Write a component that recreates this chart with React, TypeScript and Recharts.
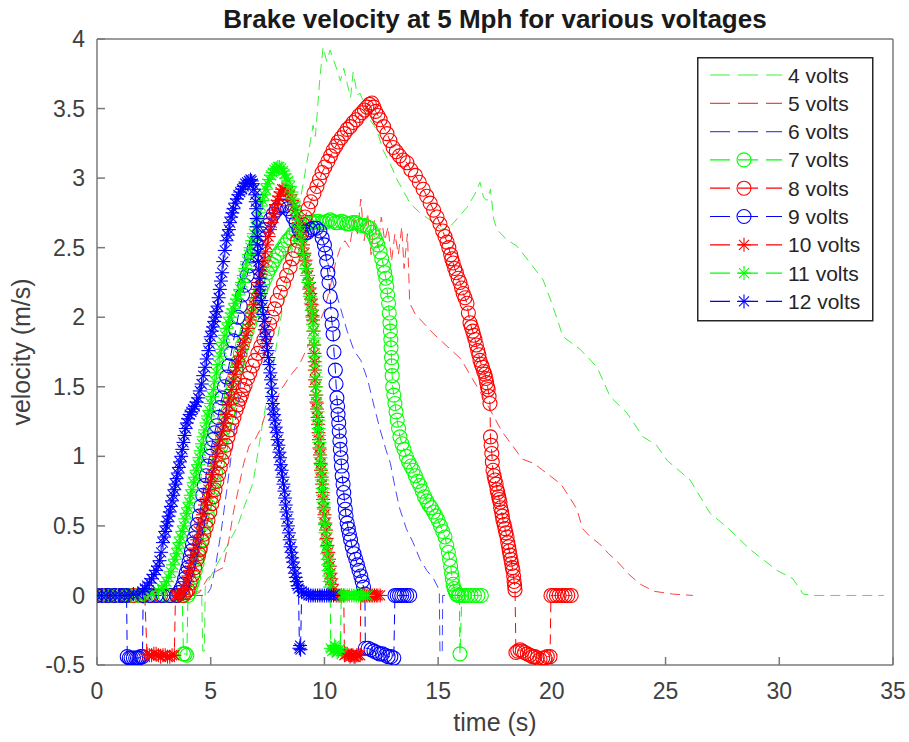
import React from 'react';
import { LineChart, Line, XAxis, YAxis, Legend, Label } from 'recharts';

type P = [number, number];

const xTicks = [0, 5, 10, 15, 20, 25, 30, 35];
const yTicks = [-0.5, 0, 0.5, 1, 1.5, 2, 2.5, 3, 3.5, 4];
const titleText = 'Brake velocity at 5 Mph for various voltages';
const xLabelText = 'time (s)';
const yLabelText = 'velocity (m/s)';

const v4: P[] = [[0,0],[1,0],[2,0],[3,0],[4,0],[4.6,0.04],[4.65,-0.4],[4.72,-0.4],[4.76,0.06],[5.2,0.2],[5.7,0.35],[6.16,0.49],[6.5,0.65],[6.86,0.81],[7.1,1.05],[7.3,1.26],[7.7,1.6],[8.05,1.96],[8.5,2.41],[9.0,2.9],[9.3,3.18],[9.5,3.38],[9.6,3.3],[9.67,3.44],[9.8,3.72],[9.94,3.94],[10.1,3.84],[10.25,3.92],[10.38,3.86],[10.55,3.78],[10.7,3.7],[10.85,3.79],[11.0,3.68],[11.15,3.58],[11.26,3.76],[11.45,3.6],[11.57,3.61],[12.0,3.42],[12.3,3.35],[12.58,3.2],[12.9,3.1],[13.19,2.99],[13.5,2.9],[13.76,2.82],[14.2,2.75],[14.64,2.7],[15.1,2.63],[15.52,2.65],[15.9,2.72],[16.27,2.79],[16.6,2.88],[16.84,2.97],[17.0,2.86],[17.15,2.84],[17.3,2.92],[17.45,2.7],[17.59,2.63],[18.0,2.56],[18.47,2.51],[19.0,2.4],[19.61,2.27],[20.0,2.1],[20.49,1.86],[21.24,1.77],[21.99,1.64],[22.56,1.43],[23.31,1.31],[24.01,1.14],[24.6,1.08],[25.07,0.97],[26.08,0.83],[26.96,0.59],[27.7,0.49],[28.72,0.33],[29.9,0.18],[30.6,0.12],[31.05,0.01],[31.5,0],[32.5,0],[33.5,0],[34.6,0]];

const v5: P[] = [[0,0],[2,0],[4,0],[4.5,0.02],[4.85,0.12],[5.2,0.17],[5.55,0.2],[5.8,0.4],[6.0,0.6],[6.2,0.75],[6.45,0.95],[6.7,1.08],[6.95,1.12],[7.2,1.2],[7.4,1.3],[7.6,1.28],[7.85,1.4],[8.1,1.48],[8.5,1.58],[8.9,1.66],[9.3,1.8],[9.7,1.93],[10.0,2.05],[10.3,2.25],[10.5,2.4],[10.7,2.5],[10.9,2.55],[11.1,2.5],[11.3,2.7],[11.45,2.6],[11.6,2.85],[11.75,2.55],[11.9,2.75],[12.05,2.45],[12.2,2.7],[12.35,2.5],[12.5,2.72],[12.65,2.55],[12.8,2.65],[12.95,2.4],[13.1,2.6],[13.25,2.45],[13.4,2.65],[13.5,2.35],[13.65,2.6],[13.75,2.1],[14.0,2.02],[14.35,1.96],[14.8,1.88],[15.2,1.82],[15.6,1.76],[16.0,1.7],[16.5,1.56],[17.0,1.42],[17.4,1.3],[17.8,1.18],[18.3,1.07],[18.7,0.98],[19.2,0.95],[19.6,0.9],[20.0,0.85],[20.4,0.8],[20.8,0.7],[21.1,0.62],[21.35,0.48],[21.7,0.42],[22.1,0.37],[22.5,0.3],[22.9,0.24],[23.4,0.15],[23.9,0.08],[24.5,0.03],[25.3,0.01],[26.2,0]];

const v6: P[] = [[0,0],[1,0],[2,0],[3,0],[4,0],[4.8,0],[5.0,0.05],[5.2,0.2],[5.45,0.45],[5.7,0.75],[5.9,1.0],[6.1,1.28],[6.3,1.5],[6.5,1.75],[6.8,2.0],[7.2,2.25],[7.7,2.45],[8.3,2.6],[8.9,2.7],[9.4,2.7],[9.8,2.6],[10.1,2.42],[10.4,2.24],[10.7,2.07],[11.0,1.9],[11.3,1.76],[11.6,1.69],[11.9,1.55],[12.2,1.35],[12.45,1.19],[12.7,1.05],[12.9,0.95],[13.1,0.78],[13.3,0.63],[13.6,0.48],[13.9,0.38],[14.2,0.26],[14.5,0.18],[14.8,0.12],[15.05,0.04],[15.08,-0.4],[15.18,-0.42],[15.2,0],[15.6,0],[16.0,0]];

const v7: P[] = [[0,0],[0.3,0],[0.6,0],[0.9,0],[1.2,0],[1.5,0],[1.8,0],[2.1,0],[2.4,0],[2.7,0],[3.0,0],[3.3,0],[3.55,0],[3.75,0],[3.8,-0.42],[3.88,-0.42],[3.95,-0.43],[4.0,0],[4.05,0.02],[4.1,0.05],[4.18,0.09],[4.25,0.13],[4.32,0.18],[4.4,0.23],[4.47,0.28],[4.55,0.34],[4.62,0.4],[4.7,0.46],[4.77,0.52],[4.85,0.58],[4.92,0.64],[5.0,0.7],[5.07,0.76],[5.15,0.82],[5.22,0.88],[5.3,0.95],[5.37,1.01],[5.45,1.07],[5.52,1.13],[5.6,1.2],[5.67,1.26],[5.75,1.32],[5.82,1.38],[5.9,1.45],[5.97,1.51],[6.05,1.57],[6.12,1.62],[6.2,1.68],[6.3,1.74],[6.4,1.8],[6.5,1.85],[6.6,1.9],[6.7,1.95],[6.8,2.0],[6.9,2.05],[7.0,2.1],[7.1,2.15],[7.2,2.2],[7.3,2.24],[7.4,2.28],[7.5,2.32],[7.6,2.35],[7.7,2.38],[7.8,2.41],[7.9,2.44],[8.0,2.46],[8.12,2.49],[8.25,2.52],[8.38,2.55],[8.5,2.57],[8.62,2.6],[8.75,2.62],[8.88,2.64],[9.0,2.65],[9.12,2.66],[9.25,2.67],[9.38,2.68],[9.5,2.68],[9.62,2.69],[9.75,2.69],[9.88,2.68],[10.0,2.68],[10.12,2.69],[10.25,2.7],[10.38,2.69],[10.5,2.68],[10.62,2.68],[10.75,2.69],[10.88,2.68],[11.0,2.67],[11.12,2.67],[11.25,2.68],[11.38,2.68],[11.5,2.67],[11.62,2.66],[11.75,2.66],[11.88,2.65],[12.0,2.64],[12.1,2.61],[12.2,2.58],[12.28,2.55],[12.35,2.52],[12.45,2.47],[12.52,2.42],[12.6,2.37],[12.65,2.32],[12.7,2.28],[12.74,2.22],[12.78,2.16],[12.82,2.1],[12.85,2.03],[12.88,1.96],[12.9,1.9],[12.92,1.84],[12.93,1.78],[12.95,1.71],[12.96,1.65],[12.98,1.58],[13.0,1.5],[13.05,1.44],[13.1,1.38],[13.15,1.32],[13.2,1.26],[13.26,1.2],[13.32,1.14],[13.41,1.09],[13.5,1.05],[13.6,1.0],[13.7,0.96],[13.8,0.93],[13.9,0.9],[14.0,0.86],[14.1,0.82],[14.2,0.79],[14.3,0.75],[14.4,0.71],[14.5,0.68],[14.6,0.65],[14.7,0.63],[14.8,0.6],[14.9,0.57],[15.0,0.54],[15.1,0.5],[15.2,0.46],[15.3,0.42],[15.38,0.36],[15.45,0.31],[15.5,0.26],[15.55,0.21],[15.59,0.16],[15.62,0.12],[15.66,0.08],[15.7,0.05],[15.75,0.03],[15.8,0.01],[15.87,0],[15.93,0],[15.96,-0.42],[16.04,0],[16.15,0],[16.3,0],[16.45,0],[16.6,0],[16.75,0],[16.9,0]];

const v8: P[] = [[0,0],[0.4,0],[0.8,0],[1.2,0],[1.6,0],[2.0,0],[2.4,0],[2.8,0],[3.2,0],[3.5,0],[3.8,0],[3.9,0.02],[4.0,0.04],[4.1,0.09],[4.22,0.15],[4.3,0.2],[4.4,0.26],[4.47,0.3],[4.53,0.33],[4.62,0.39],[4.7,0.44],[4.8,0.49],[4.88,0.54],[4.96,0.6],[5.05,0.66],[5.12,0.71],[5.19,0.76],[5.27,0.82],[5.35,0.87],[5.42,0.92],[5.5,0.97],[5.58,1.03],[5.67,1.08],[5.76,1.14],[5.85,1.19],[5.93,1.24],[6.02,1.28],[6.11,1.33],[6.2,1.37],[6.28,1.41],[6.35,1.44],[6.43,1.48],[6.51,1.51],[6.62,1.56],[6.72,1.6],[6.84,1.65],[6.95,1.69],[7.07,1.74],[7.2,1.79],[7.34,1.84],[7.48,1.89],[7.59,1.95],[7.7,2.0],[7.81,2.06],[7.92,2.12],[8.06,2.18],[8.2,2.24],[8.34,2.3],[8.49,2.36],[8.6,2.42],[8.7,2.48],[8.82,2.55],[8.93,2.61],[9.04,2.67],[9.15,2.72],[9.28,2.78],[9.4,2.83],[9.54,2.89],[9.67,2.94],[9.78,2.99],[9.9,3.04],[10.02,3.08],[10.15,3.12],[10.27,3.16],[10.38,3.2],[10.5,3.23],[10.6,3.26],[10.74,3.29],[10.88,3.32],[11.0,3.35],[11.13,3.37],[11.26,3.4],[11.4,3.42],[11.52,3.45],[11.65,3.47],[11.76,3.49],[11.87,3.51],[11.98,3.53],[12.09,3.54],[12.17,3.51],[12.25,3.48],[12.35,3.45],[12.45,3.42],[12.6,3.37],[12.75,3.32],[12.88,3.27],[13.02,3.22],[13.16,3.19],[13.3,3.16],[13.46,3.13],[13.63,3.11],[13.8,3.06],[14.0,3.02],[14.17,2.97],[14.34,2.92],[14.5,2.87],[14.65,2.82],[14.8,2.77],[14.95,2.72],[15.08,2.67],[15.2,2.62],[15.3,2.58],[15.39,2.54],[15.47,2.5],[15.55,2.45],[15.6,2.42],[15.66,2.39],[15.73,2.35],[15.8,2.32],[15.88,2.28],[15.96,2.25],[16.03,2.21],[16.1,2.17],[16.18,2.14],[16.27,2.1],[16.33,2.03],[16.4,1.96],[16.46,1.93],[16.52,1.9],[16.57,1.87],[16.62,1.84],[16.68,1.8],[16.74,1.76],[16.79,1.73],[16.84,1.69],[16.9,1.66],[16.95,1.64],[17.0,1.61],[17.06,1.59],[17.1,1.56],[17.13,1.53],[17.17,1.5],[17.2,1.48],[17.24,1.43],[17.28,1.38],[17.3,1.14],[17.33,1.08],[17.36,1.02],[17.38,0.96],[17.41,0.9],[17.46,0.86],[17.5,0.83],[17.55,0.8],[17.59,0.76],[17.62,0.74],[17.66,0.71],[17.69,0.69],[17.72,0.67],[17.75,0.63],[17.79,0.6],[17.82,0.57],[17.85,0.54],[17.9,0.51],[17.94,0.48],[17.98,0.45],[18.03,0.42],[18.06,0.38],[18.1,0.35],[18.13,0.32],[18.16,0.29],[18.2,0.26],[18.23,0.23],[18.26,0.2],[18.29,0.18],[18.32,0.14],[18.34,0.1],[18.36,0.07],[18.38,0.04],[18.42,-0.41],[18.5,-0.4],[18.6,-0.39],[18.7,-0.4],[18.8,-0.41],[18.92,-0.42],[19.04,-0.43],[19.15,-0.44],[19.25,-0.44],[19.36,-0.45],[19.48,-0.46],[19.6,-0.45],[19.7,-0.45],[19.8,-0.44],[19.92,-0.44],[19.96,0],[20.08,0],[20.2,0],[20.32,0],[20.45,0],[20.58,0],[20.7,0],[20.85,0]];

const v9: P[] = [[0,0],[0.25,0],[0.5,0],[0.75,0],[1.0,0],[1.15,0],[1.3,0],[1.33,-0.44],[1.42,-0.45],[1.5,-0.45],[1.6,-0.45],[1.7,-0.45],[1.78,-0.45],[1.85,-0.45],[1.92,-0.44],[2.0,-0.44],[2.03,0],[2.3,0],[2.6,0],[2.9,0],[3.2,0],[3.5,0],[3.6,0.02],[3.7,0.05],[3.78,0.08],[3.85,0.12],[3.92,0.16],[4.0,0.2],[4.05,0.24],[4.1,0.28],[4.15,0.32],[4.2,0.37],[4.27,0.41],[4.35,0.46],[4.42,0.51],[4.5,0.57],[4.57,0.64],[4.65,0.72],[4.72,0.79],[4.8,0.86],[4.87,0.93],[4.95,1.0],[5.02,1.06],[5.1,1.12],[5.17,1.17],[5.25,1.22],[5.32,1.28],[5.4,1.35],[5.5,1.42],[5.6,1.5],[5.7,1.57],[5.8,1.65],[5.9,1.74],[6.0,1.83],[6.1,1.91],[6.2,2.0],[6.3,2.08],[6.4,2.16],[6.5,2.23],[6.6,2.3],[6.7,2.37],[6.8,2.44],[6.9,2.49],[7.0,2.53],[7.12,2.57],[7.25,2.6],[7.38,2.63],[7.5,2.66],[7.62,2.7],[7.75,2.74],[7.88,2.77],[8.0,2.79],[8.12,2.8],[8.25,2.8],[8.38,2.78],[8.5,2.76],[8.62,2.72],[8.75,2.68],[8.88,2.63],[9.0,2.6],[9.12,2.6],[9.25,2.61],[9.38,2.63],[9.5,2.64],[9.65,2.64],[9.8,2.62],[9.9,2.57],[10.0,2.52],[10.05,2.46],[10.1,2.4],[10.15,2.32],[10.2,2.25],[10.25,2.15],[10.3,2.02],[10.34,1.95],[10.38,1.88],[10.42,1.75],[10.48,1.62],[10.51,1.52],[10.55,1.42],[10.58,1.36],[10.6,1.3],[10.63,1.24],[10.65,1.18],[10.68,1.11],[10.7,1.05],[10.73,0.99],[10.75,0.93],[10.78,0.86],[10.82,0.8],[10.85,0.74],[10.88,0.68],[10.92,0.62],[10.95,0.57],[11.0,0.52],[11.05,0.48],[11.1,0.44],[11.15,0.4],[11.22,0.35],[11.3,0.3],[11.38,0.26],[11.45,0.22],[11.52,0.18],[11.6,0.14],[11.66,0.1],[11.72,0.06],[11.78,0.01],[11.8,-0.38],[11.92,-0.38],[12.05,-0.39],[12.18,-0.4],[12.3,-0.41],[12.42,-0.42],[12.55,-0.42],[12.68,-0.43],[12.8,-0.44],[12.92,-0.44],[13.05,-0.45],[13.1,0],[13.2,0],[13.3,0],[13.4,0],[13.5,0],[13.62,0],[13.75,0]];

const v10: P[] = [[0,0],[0.3,0],[0.6,0],[0.9,0],[1.2,0],[1.5,0],[1.8,0],[2.1,0],[2.2,-0.42],[2.3,-0.43],[2.4,-0.43],[2.5,-0.42],[2.6,-0.42],[2.7,-0.43],[2.8,-0.44],[2.9,-0.43],[3.0,-0.43],[3.1,-0.44],[3.2,-0.44],[3.3,-0.43],[3.4,-0.43],[3.45,0],[3.53,0],[3.6,0],[3.7,0.01],[3.78,0.01],[3.87,0.05],[3.95,0.1],[4.02,0.14],[4.09,0.18],[4.17,0.23],[4.25,0.29],[4.32,0.34],[4.4,0.4],[4.48,0.46],[4.57,0.52],[4.66,0.58],[4.75,0.65],[4.82,0.7],[4.9,0.76],[4.98,0.82],[5.06,0.87],[5.14,0.93],[5.23,1.0],[5.32,1.06],[5.41,1.12],[5.5,1.18],[5.58,1.24],[5.67,1.3],[5.76,1.37],[5.84,1.42],[5.92,1.48],[6.0,1.54],[6.07,1.59],[6.15,1.64],[6.22,1.68],[6.3,1.72],[6.38,1.77],[6.46,1.82],[6.55,1.87],[6.64,1.92],[6.73,1.98],[6.8,2.03],[6.88,2.09],[6.96,2.14],[7.04,2.2],[7.12,2.25],[7.2,2.31],[7.27,2.36],[7.34,2.41],[7.41,2.47],[7.48,2.52],[7.55,2.58],[7.61,2.63],[7.68,2.68],[7.74,2.72],[7.8,2.77],[7.87,2.81],[7.94,2.84],[8.0,2.87],[8.07,2.9],[8.14,2.92],[8.22,2.92],[8.3,2.91],[8.4,2.9],[8.49,2.88],[8.57,2.84],[8.65,2.8],[8.72,2.77],[8.8,2.73],[8.87,2.68],[8.93,2.63],[9.0,2.58],[9.06,2.52],[9.12,2.46],[9.17,2.41],[9.22,2.35],[9.28,2.3],[9.32,2.25],[9.35,2.21],[9.38,2.17],[9.41,2.13],[9.44,2.09],[9.46,2.05],[9.48,2.01],[9.5,1.98],[9.52,1.9],[9.54,1.8],[9.56,1.74],[9.57,1.68],[9.58,1.62],[9.59,1.55],[9.61,1.5],[9.63,1.44],[9.65,1.39],[9.67,1.34],[9.7,1.28],[9.72,1.23],[9.74,1.17],[9.76,1.12],[9.78,1.06],[9.8,1.01],[9.83,0.95],[9.85,0.9],[9.88,0.85],[9.9,0.8],[9.92,0.74],[9.94,0.69],[9.97,0.63],[10.0,0.58],[10.04,0.52],[10.07,0.47],[10.1,0.41],[10.13,0.36],[10.17,0.31],[10.2,0.26],[10.24,0.21],[10.27,0.16],[10.3,0.12],[10.33,0.08],[10.39,0.04],[10.45,0.01],[10.52,0],[10.6,0],[10.68,0],[10.75,0],[10.85,0],[10.88,-0.43],[10.94,-0.42],[11.0,-0.42],[11.07,-0.43],[11.13,-0.44],[11.19,-0.43],[11.25,-0.43],[11.3,-0.44],[11.35,-0.44],[11.42,-0.43],[11.48,-0.43],[11.57,-0.43],[11.6,0],[11.68,0],[11.75,0],[11.83,0],[11.9,0],[11.98,0],[12.05,0],[12.12,0],[12.2,0],[12.28,0],[12.35,0],[12.45,0]];

const v11: P[] = [[0,0],[0.3,0],[0.6,0],[0.9,0],[1.2,0],[1.5,0],[1.8,0],[2.1,0],[2.4,0.01],[2.7,0.03],[2.85,0.05],[2.95,0.07],[3.05,0.1],[3.15,0.13],[3.25,0.17],[3.35,0.22],[3.42,0.26],[3.5,0.3],[3.56,0.34],[3.62,0.38],[3.68,0.42],[3.75,0.46],[3.82,0.5],[3.88,0.55],[3.94,0.59],[4.0,0.63],[4.06,0.67],[4.12,0.72],[4.18,0.76],[4.25,0.81],[4.31,0.85],[4.38,0.9],[4.44,0.94],[4.5,0.99],[4.56,1.04],[4.62,1.09],[4.68,1.14],[4.75,1.19],[4.81,1.24],[4.88,1.29],[4.94,1.33],[5.0,1.38],[5.06,1.43],[5.12,1.48],[5.18,1.54],[5.25,1.6],[5.32,1.66],[5.4,1.72],[5.47,1.77],[5.55,1.82],[5.62,1.87],[5.7,1.92],[5.78,1.96],[5.85,2.0],[5.92,2.03],[6.0,2.06],[6.08,2.1],[6.15,2.13],[6.22,2.16],[6.3,2.2],[6.38,2.25],[6.45,2.3],[6.52,2.35],[6.6,2.4],[6.68,2.45],[6.75,2.5],[6.82,2.55],[6.9,2.6],[6.98,2.65],[7.05,2.7],[7.12,2.75],[7.2,2.8],[7.28,2.84],[7.35,2.88],[7.42,2.92],[7.5,2.96],[7.58,2.99],[7.65,3.02],[7.72,3.04],[7.8,3.06],[7.88,3.07],[7.95,3.08],[8.02,3.08],[8.1,3.07],[8.18,3.05],[8.25,3.03],[8.32,3.0],[8.4,2.98],[8.48,2.94],[8.55,2.9],[8.62,2.85],[8.7,2.8],[8.76,2.75],[8.82,2.7],[8.88,2.65],[8.93,2.6],[8.98,2.55],[9.03,2.5],[9.08,2.45],[9.13,2.4],[9.18,2.35],[9.23,2.3],[9.28,2.25],[9.32,2.2],[9.36,2.15],[9.4,2.1],[9.44,2.05],[9.47,2.0],[9.5,1.95],[9.52,1.9],[9.54,1.85],[9.56,1.8],[9.58,1.72],[9.6,1.65],[9.62,1.57],[9.63,1.5],[9.65,1.44],[9.67,1.38],[9.7,1.32],[9.72,1.26],[9.74,1.2],[9.76,1.15],[9.78,1.1],[9.8,1.05],[9.83,0.99],[9.85,0.94],[9.88,0.88],[9.9,0.83],[9.92,0.77],[9.94,0.72],[9.96,0.67],[9.98,0.62],[10.0,0.56],[10.03,0.51],[10.05,0.45],[10.07,0.4],[10.1,0.35],[10.12,0.3],[10.14,0.26],[10.16,0.22],[10.18,0.18],[10.21,0.14],[10.23,0.1],[10.25,0.06],[10.28,-0.38],[10.34,-0.4],[10.4,-0.39],[10.45,-0.36],[10.5,-0.37],[10.56,-0.41],[10.62,-0.4],[10.7,-0.38],[10.74,0],[10.82,0],[10.9,0],[11.0,0],[11.1,0],[11.2,0],[11.3,0],[11.4,0],[11.5,0],[11.6,0],[11.7,0],[11.8,0],[11.9,0]];

const v12: P[] = [[0,0],[0.2,0],[0.4,0],[0.6,0],[0.8,0],[1.0,0],[1.2,0],[1.4,0],[1.6,0.01],[1.8,0.01],[2.0,0.03],[2.1,0.05],[2.2,0.07],[2.3,0.09],[2.4,0.12],[2.5,0.15],[2.6,0.18],[2.68,0.21],[2.75,0.25],[2.82,0.31],[2.9,0.38],[2.95,0.42],[3.0,0.46],[3.05,0.5],[3.1,0.53],[3.15,0.57],[3.2,0.6],[3.25,0.64],[3.3,0.68],[3.35,0.72],[3.4,0.76],[3.45,0.8],[3.5,0.84],[3.55,0.88],[3.6,0.92],[3.65,0.96],[3.7,1.0],[3.75,1.05],[3.8,1.1],[3.85,1.15],[3.9,1.2],[3.95,1.24],[4.0,1.27],[4.08,1.3],[4.15,1.32],[4.22,1.34],[4.3,1.36],[4.38,1.39],[4.45,1.42],[4.52,1.47],[4.6,1.52],[4.67,1.58],[4.75,1.64],[4.82,1.7],[4.9,1.76],[4.95,1.81],[5.0,1.86],[5.05,1.9],[5.1,1.93],[5.15,1.97],[5.2,2.0],[5.25,2.04],[5.3,2.08],[5.35,2.14],[5.4,2.2],[5.45,2.26],[5.5,2.32],[5.55,2.4],[5.62,2.48],[5.7,2.55],[5.75,2.59],[5.8,2.63],[5.85,2.68],[5.9,2.72],[5.95,2.75],[6.0,2.78],[6.08,2.82],[6.15,2.85],[6.22,2.88],[6.3,2.9],[6.38,2.92],[6.45,2.94],[6.52,2.96],[6.6,2.97],[6.68,2.98],[6.75,2.99],[6.8,2.98],[6.85,2.96],[6.9,2.92],[6.95,2.88],[6.98,2.83],[7.0,2.78],[7.02,2.71],[7.03,2.65],[7.05,2.58],[7.06,2.52],[7.08,2.46],[7.1,2.4],[7.12,2.34],[7.15,2.28],[7.17,2.22],[7.2,2.17],[7.23,2.12],[7.27,2.07],[7.31,2.02],[7.35,1.97],[7.38,1.91],[7.42,1.86],[7.46,1.81],[7.5,1.76],[7.54,1.71],[7.58,1.66],[7.62,1.6],[7.65,1.55],[7.68,1.49],[7.7,1.43],[7.73,1.38],[7.75,1.34],[7.78,1.3],[7.82,1.26],[7.86,1.21],[7.9,1.17],[7.94,1.12],[7.98,1.08],[8.02,1.03],[8.05,0.99],[8.08,0.94],[8.12,0.9],[8.16,0.85],[8.2,0.8],[8.24,0.75],[8.27,0.7],[8.3,0.65],[8.33,0.6],[8.37,0.55],[8.4,0.5],[8.44,0.45],[8.47,0.4],[8.51,0.35],[8.55,0.31],[8.58,0.27],[8.62,0.24],[8.66,0.2],[8.7,0.16],[8.74,0.13],[8.78,0.1],[8.82,0.07],[8.86,0.05],[8.9,-0.38],[8.93,-0.36],[8.95,-0.39],[9.0,0.03],[9.1,0.02],[9.2,0.01],[9.3,0],[9.4,0],[9.5,0],[9.6,0],[9.7,0],[9.8,0],[9.9,0],[10.0,0],[10.1,0],[10.2,0],[10.3,0],[10.4,0]];

const GREEN = '#00ff00';
const RED = '#ff0000';
const BLUE = '#0000ff';
const LIGHT_GREEN = '#3cf03c';
const LIGHT_RED = '#ff4040';
const LIGHT_BLUE = '#4848ff';
const FONT = '"Liberation Sans", Arial, Helvetica, sans-serif';

type Marker = 'none' | 'o' | '*';
const series: { name: string; pts: P[]; color: string; marker: Marker }[] = [
  { name: '4 volts', pts: v4, color: LIGHT_GREEN, marker: 'none' },
  { name: '5 volts', pts: v5, color: LIGHT_RED, marker: 'none' },
  { name: '6 volts', pts: v6, color: LIGHT_BLUE, marker: 'none' },
  { name: '7 volts', pts: v7, color: GREEN, marker: 'o' },
  { name: '8 volts', pts: v8, color: RED, marker: 'o' },
  { name: '9 volts', pts: v9, color: BLUE, marker: 'o' },
  { name: '10 volts', pts: v10, color: RED, marker: '*' },
  { name: '11 volts', pts: v11, color: GREEN, marker: '*' },
  { name: '12 volts', pts: v12, color: BLUE, marker: '*' },
];

function drawMarker(marker: Marker, color: string, cx: number, cy: number, key: string) {
  if (marker === 'o') {
    return <circle key={key} cx={cx} cy={cy} r={7} fill="none" stroke={color} strokeWidth={1.1} />;
  }
  const s = 7;
  const d = 5;
  return (
    <g key={key} stroke={color} strokeWidth={1.1}>
      <line x1={cx - s} y1={cy} x2={cx + s} y2={cy} />
      <line x1={cx} y1={cy - s} x2={cx} y2={cy + s} />
      <line x1={cx - d} y1={cy - d} x2={cx + d} y2={cy + d} />
      <line x1={cx - d} y1={cy + d} x2={cx + d} y2={cy - d} />
    </g>
  );
}

const LegendBox = () => (
  <svg width={177} height={265} style={{ display: 'block' }}>
    <rect x={0.75} y={0.75} width={175} height={263} fill="#ffffff" stroke="#262626" strokeWidth={1.5} />
    {series.map((s, i) => {
      const y = 18 + i * 28.3;
      return (
        <g key={s.name}>
          <line x1={13} x2={85} y1={y} y2={y} stroke={s.color} strokeWidth={1.2} strokeDasharray="20 8" />
          {s.marker !== 'none' ? drawMarker(s.marker, s.color, 47, y, 'm' + i) : null}
          <text x={91} y={y} dy="0.36em" fontSize={21} fill="#262626" fontFamily={FONT}>
            {s.name}
          </text>
        </g>
      );
    })}
  </svg>
);

export default function App() {
  return (
    <div style={{ position: 'absolute', left: 0, top: 0, width: 909, height: 742, background: '#fff' }}>
      <LineChart width={909} height={742} margin={{ top: 38, right: 15, bottom: 0, left: 0 }}>
        <XAxis
          xAxisId="0"
          dataKey="t"
          type="number"
          domain={[0, 35]}
          ticks={xTicks}
          allowDataOverflow
          height={77}
          stroke="#7a7a7a"
          strokeWidth={1.5}
          tickSize={-8}
          tickMargin={26}
          tick={{ fill: '#404040', fontSize: 23, fontFamily: FONT }}
        >
          <Label
            content={() => (
              <g>
                <text x={495} y={731} textAnchor="middle" fontSize={25} fill="#404040" fontFamily={FONT}>
                  {xLabelText}
                </text>
                <text x={495} y={28} textAnchor="middle" fontSize={26} fontWeight="bold" fill="#1a1a1a" fontFamily={FONT}>
                  {titleText}
                </text>
              </g>
            )}
          />
        </XAxis>
        <XAxis
          xAxisId="top"
          orientation="top"
          type="number"
          domain={[0, 35]}
          ticks={xTicks}
          allowDataOverflow
          height={1}
          stroke="#7a7a7a"
          strokeWidth={1.5}
          tickSize={-8}
          tick={false}
        />
        <YAxis
          yAxisId="0"
          type="number"
          domain={[-0.5, 4]}
          ticks={yTicks}
          allowDataOverflow
          width={97}
          stroke="#7a7a7a"
          strokeWidth={1.5}
          tickSize={-8}
          tickMargin={20}
          tick={{ fill: '#404040', fontSize: 23, fontFamily: FONT }}
        >
          <Label
            content={() => (
              <text
                x={0}
                y={0}
                transform="translate(30 352) rotate(-90)"
                textAnchor="middle"
                fontSize={25}
                fill="#404040"
                fontFamily={FONT}
              >
                {yLabelText}
              </text>
            )}
          />
        </YAxis>
        <YAxis
          yAxisId="right"
          orientation="right"
          type="number"
          domain={[-0.5, 4]}
          ticks={yTicks}
          allowDataOverflow
          width={1}
          stroke="#7a7a7a"
          strokeWidth={1.5}
          tickSize={-8}
          tick={false}
        />
        {series.map((s) => (
          <Line
            key={s.name}
            xAxisId="0"
            yAxisId="0"
            name={s.name}
            data={s.pts.map(([t, v]) => ({ t, v }))}
            dataKey="v"
            type="linear"
            stroke={s.color}
            strokeWidth={1}
            strokeDasharray="10 6"
            isAnimationActive={false}
            activeDot={false}
            dot={
              s.marker === 'none'
                ? false
                : (p: any) => {
                    const k = s.name + '-' + p.index;
                    if (p.cx == null || p.cy == null) return <g key={k} />;
                    return drawMarker(s.marker, s.color, p.cx, p.cy, k);
                  }
            }
          />
        ))}
        <Legend
          layout="vertical"
          align="center"
          verticalAlign="middle"
          content={LegendBox}
          wrapperStyle={{ position: 'absolute', left: 697, top: 57, width: 177, height: 265 }}
        />
      </LineChart>
    </div>
  );
}
